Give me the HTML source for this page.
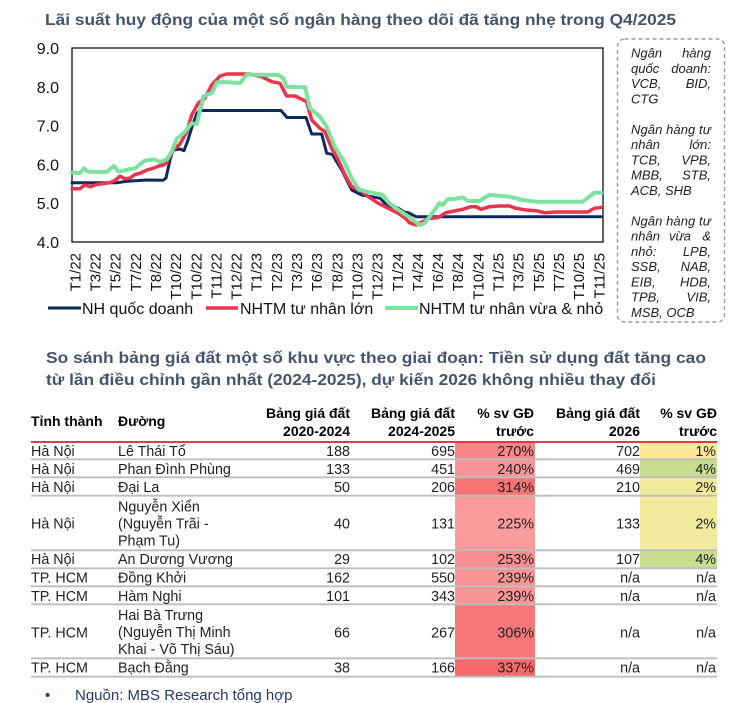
<!DOCTYPE html>
<html>
<head>
<meta charset="utf-8">
<style>
  html,body{margin:0;padding:0;background:#fff;}
  body{width:733px;height:703px;overflow:hidden;}
  svg{display:block;}
  text{font-family:"Liberation Sans","DejaVu Sans",sans-serif;}
  .ttl{font-size:16px;font-weight:bold;fill:#44546A;}
  .ax{font-size:16px;fill:#111;}
  .xl{font-size:15px;fill:#111;}
  .lg{font-size:16px;fill:#111;}
  .bx{font-size:13px;font-style:italic;fill:#222;}
  .th{font-size:14px;font-weight:bold;fill:#000;}
  .td{font-size:14.3px;fill:#222;}
  .ft{font-size:15px;fill:#24386B;}
</style>
</head>
<body>
<svg width="733" height="703" viewBox="0 0 733 703" xmlns="http://www.w3.org/2000/svg">
  <text class="ttl" x="45" y="25" textLength="631" lengthAdjust="spacingAndGlyphs">Lãi suất huy động của một số ngân hàng theo dõi đã tăng nhẹ trong Q4/2025</text>

  <rect x="72" y="48" width="531" height="194" fill="none" stroke="#111" stroke-width="1.3"/>

  <g class="ax" text-anchor="end">
    <text x="59" y="54">9.0</text>
    <text x="59" y="92.8">8.0</text>
    <text x="59" y="131.6">7.0</text>
    <text x="59" y="170.4">6.0</text>
    <text x="59" y="209.2">5.0</text>
    <text x="59" y="248">4.0</text>
  </g>

  <g class="xl" text-anchor="end">
    <text transform="translate(80.4,253) rotate(-90)">T1/22</text>
    <text transform="translate(100.5,253) rotate(-90)">T3/22</text>
    <text transform="translate(120.7,253) rotate(-90)">T5/22</text>
    <text transform="translate(140.8,253) rotate(-90)">T7/22</text>
    <text transform="translate(161,253) rotate(-90)">T8/22</text>
    <text transform="translate(181.1,253) rotate(-90)">T10/22</text>
    <text transform="translate(201.3,253) rotate(-90)">T10/22</text>
    <text transform="translate(221.4,253) rotate(-90)">T11/22</text>
    <text transform="translate(241.6,253) rotate(-90)">T12/22</text>
    <text transform="translate(261.7,253) rotate(-90)">T1/23</text>
    <text transform="translate(281.9,253) rotate(-90)">T2/23</text>
    <text transform="translate(302,253) rotate(-90)">T3/23</text>
    <text transform="translate(322.2,253) rotate(-90)">T6/23</text>
    <text transform="translate(342.3,253) rotate(-90)">T8/23</text>
    <text transform="translate(362.5,253) rotate(-90)">T10/23</text>
    <text transform="translate(382.6,253) rotate(-90)">T12/23</text>
    <text transform="translate(402.8,253) rotate(-90)">T1/24</text>
    <text transform="translate(422.9,253) rotate(-90)">T4/24</text>
    <text transform="translate(443.1,253) rotate(-90)">T6/24</text>
    <text transform="translate(463.2,253) rotate(-90)">T8/24</text>
    <text transform="translate(483.4,253) rotate(-90)">T10/24</text>
    <text transform="translate(503.5,253) rotate(-90)">T1/25</text>
    <text transform="translate(523.7,253) rotate(-90)">T3/25</text>
    <text transform="translate(543.8,253) rotate(-90)">T5/25</text>
    <text transform="translate(564,253) rotate(-90)">T7/25</text>
    <text transform="translate(584.1,253) rotate(-90)">T10/25</text>
    <text transform="translate(604.3,253) rotate(-90)">T11/25</text>
  </g>

  <g fill="none" stroke-linejoin="round" stroke-linecap="round">
    <polyline stroke="#0D2A5E" stroke-width="3" points="72,182.7 117,182.7 127,181.3 147,180 163,180.3 166,178 170,160 173,150 180,149 184,150.7 188,140 192,126.7 197,113 200,110.5 281,110.5 287,117.5 306,117.5 311.7,134 321.7,134 326.7,153.3 332.3,154.3 341.7,170 351.7,190 361.7,195 371.7,196.7 380,198.3 385,203.3 391.7,206.7 398,208 404,212 409,213 416,216.7 601,216.7"/>
    <polyline stroke="#E8344C" stroke-width="3.5" points="72,188.7 80,188.7 85,185 90,186.7 96.7,184.5 110,182.7 115,180.5 120,176.2 125,178.8 130,178 135,174.5 140,173.3 147,170 154,168 159,166 163.3,165 167,162.5 173.3,150 180,144 186.7,132 191.7,115 198.3,103 205,98 211.7,85 220,76 226.7,74 250,74 261.7,76.7 271.7,81.7 280,83.3 286.7,96 295,96 306.7,101.7 311.7,120 320,128.3 325,131.7 331.7,148.3 338.3,160 345,175 351.7,186.7 360,190 368.3,196.7 378.3,203.3 388.3,208.3 398.3,213.3 405,218 409.3,222.7 416,225 422.7,221.7 429.3,218.3 437.7,217.7 446,212.7 454.3,211 462.7,209.3 471,206.7 476,206.7 481,209.3 489.3,206.7 499.3,206 509.3,206 516,208.3 526,210 536,210.7 544.3,212.7 556,212 587.7,212 594.3,208.3 601.3,207.3"/>
    <polyline stroke="#7DE2A0" stroke-width="4" points="72,172.7 80,173 84,168.5 88.3,171.7 106.7,172 114,166 118.3,171.7 128.3,169.5 135,168.3 145,160.5 155,159.5 160,162 166.7,159.5 171.7,151.7 176.7,139 185,131.7 191.7,123.3 196.7,124 203.3,96.7 208.3,94 211.7,93.3 216.7,82.5 223.3,82 240,83 246.7,74.5 278.3,75 283.3,78.3 286.7,86.7 305,87.3 310,108.3 320,116.7 326.7,126.7 335,147.3 343.3,160 351.7,178 358.3,189 366.7,191.7 375,193.3 382.7,194.8 389.3,203.3 399.3,210.5 409.3,217 419.3,225 424.3,223.3 431,215 439.3,203.3 442.7,205 447.7,199.3 454.3,199 462.7,197.3 467.7,201 479.3,201 489.3,195 499.3,195.7 509.3,196.7 522.7,200 536,201.7 582.7,201.7 589.3,196.7 594.3,192.7 601.3,192.7"/>
  </g>

  <line x1="48" y1="308" x2="81" y2="308" stroke="#0D2A5E" stroke-width="3"/>
  <text class="lg" x="82" y="314">NH quốc doanh</text>
  <line x1="206" y1="308" x2="238" y2="308" stroke="#E8344C" stroke-width="3.5"/>
  <text class="lg" x="240" y="314">NHTM tư nhân lớn</text>
  <line x1="385" y1="308" x2="418" y2="308" stroke="#7DE2A0" stroke-width="4"/>
  <text class="lg" x="419" y="314">NHTM tư nhân vừa &amp; nhỏ</text>

  <rect x="617.5" y="39" width="107" height="283" rx="7" ry="7" fill="none" stroke="#9a9a9a" stroke-width="1.4" stroke-dasharray="4,3"/>
  <g class="bx">
    <text x="631" y="57.5">Ngân</text><text x="711" y="57.5" text-anchor="end">hàng</text>
    <text x="631" y="72.8">quốc</text><text x="711" y="72.8" text-anchor="end">doanh:</text>
    <text x="631" y="88">VCB,</text><text x="711" y="88" text-anchor="end">BID,</text>
    <text x="631" y="103.3">CTG</text>
    <text x="631" y="133.8" textLength="80" lengthAdjust="spacing">Ngân hàng tư</text>
    <text x="631" y="149">nhân</text><text x="711" y="149" text-anchor="end">lớn:</text>
    <text x="631" y="164.3">TCB,</text><text x="711" y="164.3" text-anchor="end">VPB,</text>
    <text x="631" y="179.5">MBB,</text><text x="711" y="179.5" text-anchor="end">STB,</text>
    <text x="631" y="194.8">ACB, SHB</text>
    <text x="631" y="225.3" textLength="80" lengthAdjust="spacing">Ngân hàng tư</text>
    <text x="631" y="240.5">nhân</text><text x="669" y="240.5">vừa</text><text x="711" y="240.5" text-anchor="end">&amp;</text>
    <text x="631" y="255.8">nhỏ:</text><text x="711" y="255.8" text-anchor="end">LPB,</text>
    <text x="631" y="271">SSB,</text><text x="711" y="271" text-anchor="end">NAB,</text>
    <text x="631" y="286.3">EIB,</text><text x="711" y="286.3" text-anchor="end">HDB,</text>
    <text x="631" y="301.5">TPB,</text><text x="711" y="301.5" text-anchor="end">VIB,</text>
    <text x="631" y="316.8">MSB, OCB</text>
  </g>

  <text class="ttl" x="46" y="363" textLength="660" lengthAdjust="spacingAndGlyphs">So sánh bảng giá đất một số khu vực theo giai đoạn: Tiền sử dụng đất tăng cao</text>
  <text class="ttl" x="46" y="385" textLength="610" lengthAdjust="spacingAndGlyphs">từ lần điều chỉnh gần nhất (2024-2025), dự kiến 2026 không nhiều thay đổi</text>

  <g class="th">
    <text x="31" y="426">Tỉnh thành</text>
    <text x="118" y="426">Đường</text>
    <text x="350" y="418" text-anchor="end">Bảng giá đất</text>
    <text x="350" y="436" text-anchor="end">2020-2024</text>
    <text x="455" y="418" text-anchor="end">Bảng giá đất</text>
    <text x="455" y="436" text-anchor="end">2024-2025</text>
    <text x="534" y="418" text-anchor="end">% sv GĐ</text>
    <text x="534" y="436" text-anchor="end">trước</text>
    <text x="640" y="418" text-anchor="end">Bảng giá đất</text>
    <text x="640" y="436" text-anchor="end">2026</text>
    <text x="717" y="418" text-anchor="end">% sv GĐ</text>
    <text x="717" y="436" text-anchor="end">trước</text>
  </g>

  <rect x="455" y="442" width="80" height="17.3" fill="#F98789"/>
  <rect x="455" y="459.3" width="80" height="18" fill="#FA9496"/>
  <rect x="455" y="477.3" width="80" height="18.4" fill="#F87375"/>
  <rect x="455" y="495.7" width="80" height="54.6" fill="#FA9B9D"/>
  <rect x="455" y="550.3" width="80" height="18" fill="#F98E90"/>
  <rect x="455" y="568.3" width="80" height="18" fill="#FA9597"/>
  <rect x="455" y="586.3" width="80" height="18" fill="#FA9597"/>
  <rect x="455" y="604.3" width="80" height="54" fill="#F8777A"/>
  <rect x="455" y="658.3" width="80" height="18.4" fill="#F8696B"/>
  <rect x="640" y="442" width="77" height="17.3" fill="#FBE89B"/>
  <rect x="640" y="459.3" width="77" height="18" fill="#C8DD8E"/>
  <rect x="640" y="477.3" width="77" height="18.4" fill="#F1E99B"/>
  <rect x="640" y="495.7" width="77" height="54.6" fill="#F1E99B"/>
  <rect x="640" y="550.3" width="77" height="18" fill="#C8DD8E"/>

  <g stroke="#BDBDBD" stroke-width="1.8">
    <line x1="31" y1="459.3" x2="717" y2="459.3"/>
    <line x1="31" y1="477.3" x2="717" y2="477.3"/>
    <line x1="31" y1="495.7" x2="717" y2="495.7"/>
    <line x1="31" y1="550.3" x2="717" y2="550.3"/>
    <line x1="31" y1="568.3" x2="717" y2="568.3"/>
    <line x1="31" y1="586.3" x2="717" y2="586.3"/>
    <line x1="31" y1="604.3" x2="717" y2="604.3"/>
    <line x1="31" y1="658.3" x2="717" y2="658.3"/>
    <line x1="31" y1="676.7" x2="717" y2="676.7"/>
  </g>
  <line x1="31" y1="442" x2="717" y2="442" stroke="#E8344C" stroke-width="2"/>

  <g class="td">
    <text x="31" y="456">Hà Nội</text><text x="118" y="456">Lê Thái Tổ</text>
    <text x="350" y="456" text-anchor="end">188</text><text x="455" y="456" text-anchor="end">695</text>
    <text x="534" y="456" text-anchor="end">270%</text><text x="640" y="456" text-anchor="end">702</text>
    <text x="716" y="456" text-anchor="end">1%</text>
    <text x="31" y="474">Hà Nội</text><text x="118" y="474">Phan Đình Phùng</text>
    <text x="350" y="474" text-anchor="end">133</text><text x="455" y="474" text-anchor="end">451</text>
    <text x="534" y="474" text-anchor="end">240%</text><text x="640" y="474" text-anchor="end">469</text>
    <text x="716" y="474" text-anchor="end">4%</text>
    <text x="31" y="492">Hà Nội</text><text x="118" y="492">Đại La</text>
    <text x="350" y="492" text-anchor="end">50</text><text x="455" y="492" text-anchor="end">206</text>
    <text x="534" y="492" text-anchor="end">314%</text><text x="640" y="492" text-anchor="end">210</text>
    <text x="716" y="492" text-anchor="end">2%</text>
    <text x="31" y="528.5">Hà Nội</text>
    <text x="118" y="511.5">Nguyễn Xiển</text>
    <text x="118" y="528.5">(Nguyễn Trãi -</text>
    <text x="118" y="545.5">Phạm Tu)</text>
    <text x="350" y="528.5" text-anchor="end">40</text><text x="455" y="528.5" text-anchor="end">131</text>
    <text x="534" y="528.5" text-anchor="end">225%</text><text x="640" y="528.5" text-anchor="end">133</text>
    <text x="716" y="528.5" text-anchor="end">2%</text>
    <text x="31" y="564">Hà Nội</text><text x="118" y="564">An Dương Vương</text>
    <text x="350" y="564" text-anchor="end">29</text><text x="455" y="564" text-anchor="end">102</text>
    <text x="534" y="564" text-anchor="end">253%</text><text x="640" y="564" text-anchor="end">107</text>
    <text x="716" y="564" text-anchor="end">4%</text>
    <text x="31" y="582.5">TP. HCM</text><text x="118" y="582.5">Đồng Khởi</text>
    <text x="350" y="582.5" text-anchor="end">162</text><text x="455" y="582.5" text-anchor="end">550</text>
    <text x="534" y="582.5" text-anchor="end">239%</text><text x="640" y="582.5" text-anchor="end">n/a</text>
    <text x="716" y="582.5" text-anchor="end">n/a</text>
    <text x="31" y="601">TP. HCM</text><text x="118" y="601">Hàm Nghi</text>
    <text x="350" y="601" text-anchor="end">101</text><text x="455" y="601" text-anchor="end">343</text>
    <text x="534" y="601" text-anchor="end">239%</text><text x="640" y="601" text-anchor="end">n/a</text>
    <text x="716" y="601" text-anchor="end">n/a</text>
    <text x="31" y="637.5">TP. HCM</text>
    <text x="118" y="620">Hai Bà Trưng</text>
    <text x="118" y="637">(Nguyễn Thị Minh</text>
    <text x="118" y="654">Khai - Võ Thị Sáu)</text>
    <text x="350" y="637.5" text-anchor="end">66</text><text x="455" y="637.5" text-anchor="end">267</text>
    <text x="534" y="637.5" text-anchor="end">306%</text><text x="640" y="637.5" text-anchor="end">n/a</text>
    <text x="716" y="637.5" text-anchor="end">n/a</text>
    <text x="31" y="672.5">TP. HCM</text><text x="118" y="672.5">Bạch Đằng</text>
    <text x="350" y="672.5" text-anchor="end">38</text><text x="455" y="672.5" text-anchor="end">166</text>
    <text x="534" y="672.5" text-anchor="end">337%</text><text x="640" y="672.5" text-anchor="end">n/a</text>
    <text x="716" y="672.5" text-anchor="end">n/a</text>
  </g>

  <text class="ft" x="45" y="700">•</text>
  <text class="ft" x="75" y="700">Nguồn: MBS Research tổng hợp</text>
</svg>
</body>
</html>
